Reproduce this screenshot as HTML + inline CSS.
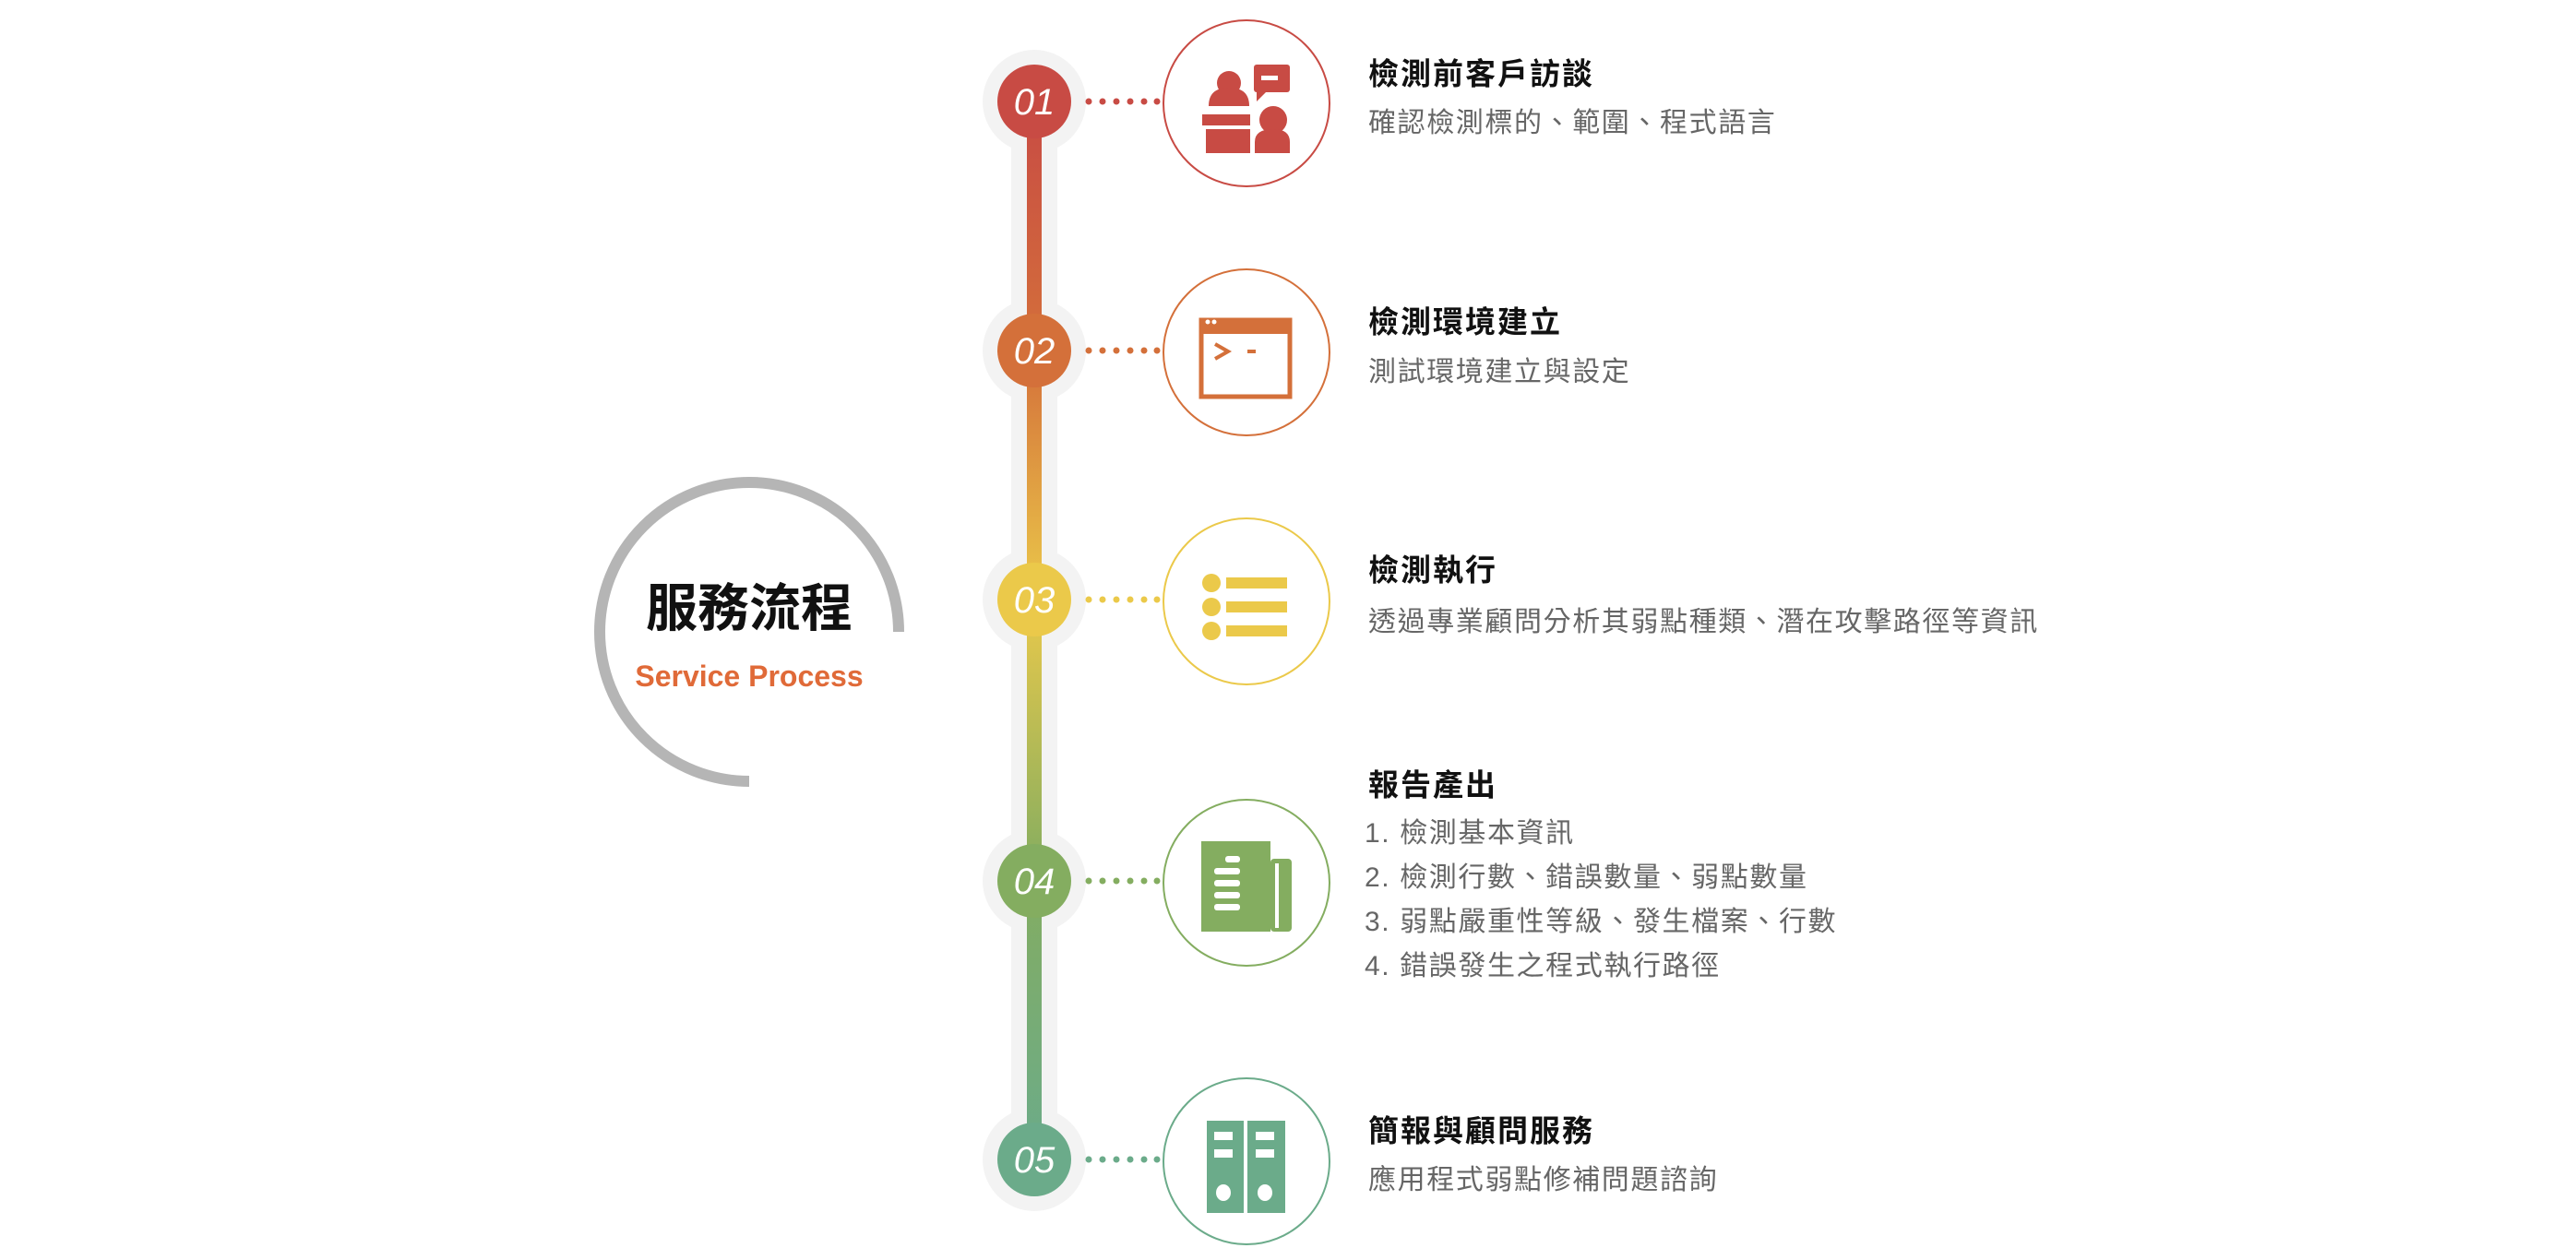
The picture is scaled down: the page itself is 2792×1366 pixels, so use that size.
<!DOCTYPE html>
<html><head><meta charset="utf-8"><style>
body{margin:0;width:2792px;height:1366px;background:#fff;overflow:hidden;position:relative;font-family:"Liberation Sans","Noto Sans CJK TC",sans-serif}
.t{position:absolute;left:1483px;font-size:33px;letter-spacing:2px;font-weight:bold;color:#111;line-height:1;white-space:nowrap;transform:translateY(-50%)}
.s{position:absolute;left:1483px;font-size:30px;letter-spacing:1.6px;color:#666;line-height:1;white-space:nowrap;transform:translateY(-50%)}
</style></head><body>
<svg width="2792" height="1366" style="position:absolute;left:0;top:0">
<defs><linearGradient id="g" x1="0" y1="110" x2="0" y2="1257" gradientUnits="userSpaceOnUse">
<stop offset="0" stop-color="#c84b44"/><stop offset="0.24" stop-color="#d4703a"/><stop offset="0.47" stop-color="#ebc94a"/><stop offset="0.73" stop-color="#84ad60"/><stop offset="1" stop-color="#6bab8a"/></linearGradient></defs>
<path d="M974 685 A162 162 0 1 0 812 847" fill="none" stroke="#b5b5b5" stroke-width="12"/>
<g fill="#f3f3f3"><circle cx="1121" cy="110" r="56"/><circle cx="1121" cy="380" r="56"/><circle cx="1121" cy="650" r="56"/><circle cx="1121" cy="955" r="56"/><circle cx="1121" cy="1257" r="56"/></g>
<rect x="1096" y="110" width="50" height="1147" fill="#f3f3f3"/>
<rect x="1113" y="110" width="16" height="1147" fill="url(#g)"/>
<g transform="translate(0,110)"><circle cx="1121" cy="0" r="40" fill="#c84b44"/><g fill="#c84b44"><circle cx="1180" cy="0" r="3.5"/><circle cx="1195" cy="0" r="3.5"/><circle cx="1210" cy="0" r="3.5"/><circle cx="1225" cy="0" r="3.5"/><circle cx="1240" cy="0" r="3.5"/><circle cx="1254" cy="0" r="3.5"/></g><circle cx="1351" cy="2" r="90" fill="none" stroke="#c84b44" stroke-width="2"/>
<g fill="#c84b44"><rect x="1359" y="-40" width="39" height="30" rx="3"/><path d="M1362-12 l0 12 l10-10z"/><rect x="1367" y="-28" width="18" height="5" fill="#fff"/><circle cx="1332" cy="-20" r="13"/><path d="M1310 5 q0-20 22-20 q22 0 22 20z"/><rect x="1303" y="14" width="52" height="12"/><rect x="1307" y="30" width="48" height="26"/><circle cx="1380" cy="20" r="15"/><path d="M1360 56 v-12 q0-14 20-14 q18 0 18 14 v12z"/></g>
</g>
<g transform="translate(0,380)"><circle cx="1121" cy="0" r="40" fill="#d4703a"/><g fill="#d4703a"><circle cx="1180" cy="0" r="3.5"/><circle cx="1195" cy="0" r="3.5"/><circle cx="1210" cy="0" r="3.5"/><circle cx="1225" cy="0" r="3.5"/><circle cx="1240" cy="0" r="3.5"/><circle cx="1254" cy="0" r="3.5"/></g><circle cx="1351" cy="2" r="90" fill="none" stroke="#d4703a" stroke-width="2"/>
<rect x="1302" y="-33" width="96" height="83" fill="none" stroke="#d4703a" stroke-width="5"/><rect x="1300" y="-35" width="100" height="17" fill="#d4703a"/><circle cx="1309" cy="-31" r="2.5" fill="#fff"/><circle cx="1316" cy="-31" r="2.5" fill="#fff"/><path d="M1317 -7 l14 8 l-14 8" fill="none" stroke="#d4703a" stroke-width="4"/><rect x="1352" y="-1" width="9" height="4" fill="#d4703a"/>
</g>
<g transform="translate(0,650)"><circle cx="1121" cy="0" r="40" fill="#ebc94a"/><g fill="#ebc94a"><circle cx="1180" cy="0" r="3.5"/><circle cx="1195" cy="0" r="3.5"/><circle cx="1210" cy="0" r="3.5"/><circle cx="1225" cy="0" r="3.5"/><circle cx="1240" cy="0" r="3.5"/><circle cx="1254" cy="0" r="3.5"/></g><circle cx="1351" cy="2" r="90" fill="none" stroke="#ebc94a" stroke-width="2"/>
<g fill="#ebc94a"><circle cx="1313" cy="-18" r="10"/><circle cx="1313" cy="8" r="10"/><circle cx="1313" cy="34" r="10"/><rect x="1329" y="-24" width="66" height="12"/><rect x="1329" y="2" width="66" height="12"/><rect x="1329" y="28" width="66" height="12"/></g>
</g>
<g transform="translate(0,955)"><circle cx="1121" cy="0" r="40" fill="#84ad60"/><g fill="#84ad60"><circle cx="1180" cy="0" r="3.5"/><circle cx="1195" cy="0" r="3.5"/><circle cx="1210" cy="0" r="3.5"/><circle cx="1225" cy="0" r="3.5"/><circle cx="1240" cy="0" r="3.5"/><circle cx="1254" cy="0" r="3.5"/></g><circle cx="1351" cy="2" r="90" fill="none" stroke="#84ad60" stroke-width="2"/>
<g fill="#84ad60"><rect x="1302" y="-43" width="75" height="98"/><rect x="1377" y="-24" width="23" height="79" rx="4"/></g><rect x="1382" y="-19" width="4" height="70" fill="#fff"/><g fill="#fff"><rect x="1328" y="-27" width="16" height="7" rx="3"/><rect x="1316" y="-14" width="28" height="7" rx="3"/><rect x="1316" y="-1" width="28" height="7" rx="3"/><rect x="1316" y="12" width="28" height="7" rx="3"/><rect x="1316" y="25" width="28" height="7" rx="3"/></g>
</g>
<g transform="translate(0,1257)"><circle cx="1121" cy="0" r="40" fill="#6bab8a"/><g fill="#6bab8a"><circle cx="1180" cy="0" r="3.5"/><circle cx="1195" cy="0" r="3.5"/><circle cx="1210" cy="0" r="3.5"/><circle cx="1225" cy="0" r="3.5"/><circle cx="1240" cy="0" r="3.5"/><circle cx="1254" cy="0" r="3.5"/></g><circle cx="1351" cy="2" r="90" fill="none" stroke="#6bab8a" stroke-width="2"/>
<g fill="#6bab8a"><rect x="1308" y="-42" width="40" height="100"/><rect x="1352" y="-42" width="41" height="100"/></g><g fill="#fff"><rect x="1316" y="-30" width="20" height="9"/><rect x="1316" y="-11" width="20" height="9"/><rect x="1361" y="-30" width="20" height="9"/><rect x="1361" y="-11" width="20" height="9"/><ellipse cx="1326" cy="36" rx="8" ry="9"/><ellipse cx="1371" cy="36" rx="8" ry="9"/></g>
</g>
<g font-family="Liberation Sans, sans-serif" font-style="italic" font-size="40" fill="#fff" text-anchor="middle">
<text x="1121" y="124">01</text><text x="1121" y="394">02</text><text x="1121" y="664">03</text><text x="1121" y="969">04</text><text x="1121" y="1271">05</text></g>
<text x="812" y="679" text-anchor="middle" font-size="56" font-weight="bold" fill="#111" font-family="Liberation Sans, Noto Sans CJK TC, sans-serif">服務流程</text>
<text x="812" y="744" text-anchor="middle" font-size="32" font-weight="bold" fill="#e06a38" font-family="Liberation Sans, sans-serif">Service Process</text>
</svg>
<div class="t" style="top:80px">檢測前客戶訪談</div>
<div class="s" style="top:134px">確認檢測標的、範圍、程式語言</div>
<div class="t" style="top:349px">檢測環境建立</div>
<div class="s" style="top:404px">測試環境建立與設定</div>
<div class="t" style="top:618px">檢測執行</div>
<div class="s" style="top:675px">透過專業顧問分析其弱點種類、潛在攻擊路徑等資訊</div>
<div class="t" style="top:851px">報告產出</div>
<div class="s" style="top:904px;left:1479px">1. 檢測基本資訊</div>
<div class="s" style="top:952px;left:1479px">2. 檢測行數、錯誤數量、弱點數量</div>
<div class="s" style="top:1000px;left:1479px">3. 弱點嚴重性等級、發生檔案、行數</div>
<div class="s" style="top:1048px;left:1479px">4. 錯誤發生之程式執行路徑</div>
<div class="t" style="top:1226px">簡報與顧問服務</div>
<div class="s" style="top:1280px">應用程式弱點修補問題諮詢</div>
</body></html>
